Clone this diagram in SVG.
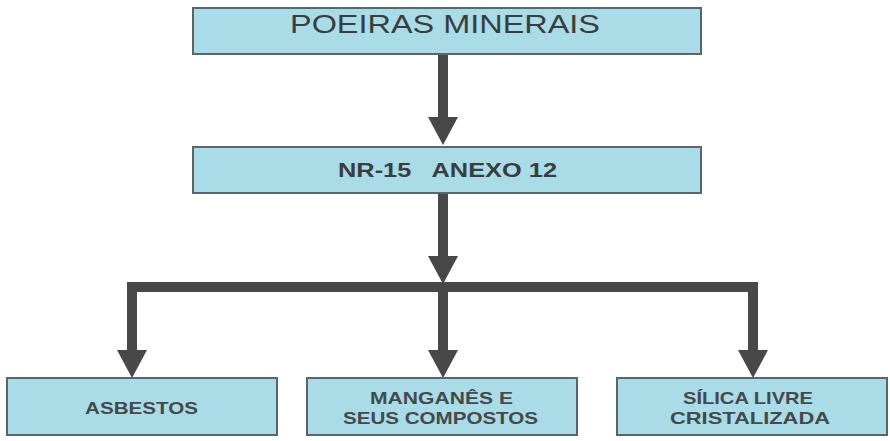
<svg xmlns="http://www.w3.org/2000/svg" width="890" height="441" viewBox="0 0 890 441">
<style>
.box{fill:#a9dce6;stroke:#5b666b;stroke-width:2}
.t{font-family:"Liberation Sans",Arial,sans-serif;fill:#3a3d3f;text-anchor:middle}
.b{font-weight:bold}
.s{font-size:17px;font-weight:bold;fill:#45494b}
.conn{fill:none;stroke:#484848;stroke-width:10;stroke-linejoin:miter}
</style>
<defs>
<marker id="ah" markerUnits="userSpaceOnUse" markerWidth="28" markerHeight="30" refX="0" refY="15" orient="auto" viewBox="0 0 28 30">
<path d="M0,0 L28,15 L0,30 z" fill="#484848"/>
</marker>
</defs>
<rect width="890" height="441" fill="#ffffff"/>
<g id="connectors">
<path class="conn" d="M443,54 V117" marker-end="url(#ah)"/>
<path class="conn" d="M443,193 V256" marker-end="url(#ah)"/>
<path class="conn" d="M132,350 V287 H753 V350" marker-end="url(#ah)"/>
<path class="conn" d="M132,290 V350" marker-end="url(#ah)"/>
<path class="conn" d="M443,282 V350" marker-end="url(#ah)"/>
</g>
<g id="poeiras">
<rect class="box" x="193" y="8" width="508" height="46"/>
<text class="t" x="445" y="33" font-size="25" textLength="310" lengthAdjust="spacingAndGlyphs">POEIRAS MINERAIS</text>
</g>
<g id="nr15">
<rect class="box" x="193" y="147" width="508" height="46"/>
<text class="t b" x="447.5" y="177" font-size="21" textLength="219" lengthAdjust="spacingAndGlyphs" xml:space="preserve">NR-15   ANEXO 12</text>
</g>
<g id="asbestos">
<rect class="box" x="7" y="378" width="270" height="57"/>
<text class="t s" x="141.5" y="414" textLength="113" lengthAdjust="spacingAndGlyphs">ASBESTOS</text>
</g>
<g id="manganes">
<rect class="box" x="307" y="378" width="270" height="57"/>
<text class="t s" x="441.5" y="404" textLength="143" lengthAdjust="spacingAndGlyphs">MANGANÊS E</text>
<text class="t s" x="440.5" y="424" textLength="195" lengthAdjust="spacingAndGlyphs">SEUS COMPOSTOS</text>
</g>
<g id="silica">
<rect class="box" x="617" y="378" width="270" height="57"/>
<text class="t s" x="748" y="404" textLength="130" lengthAdjust="spacingAndGlyphs">S&#205;&#76;&#73;&#67;&#65; LIVRE</text>
<text class="t s" x="750" y="424" textLength="160" lengthAdjust="spacingAndGlyphs">CRISTALIZADA</text>
</g>
</svg>
